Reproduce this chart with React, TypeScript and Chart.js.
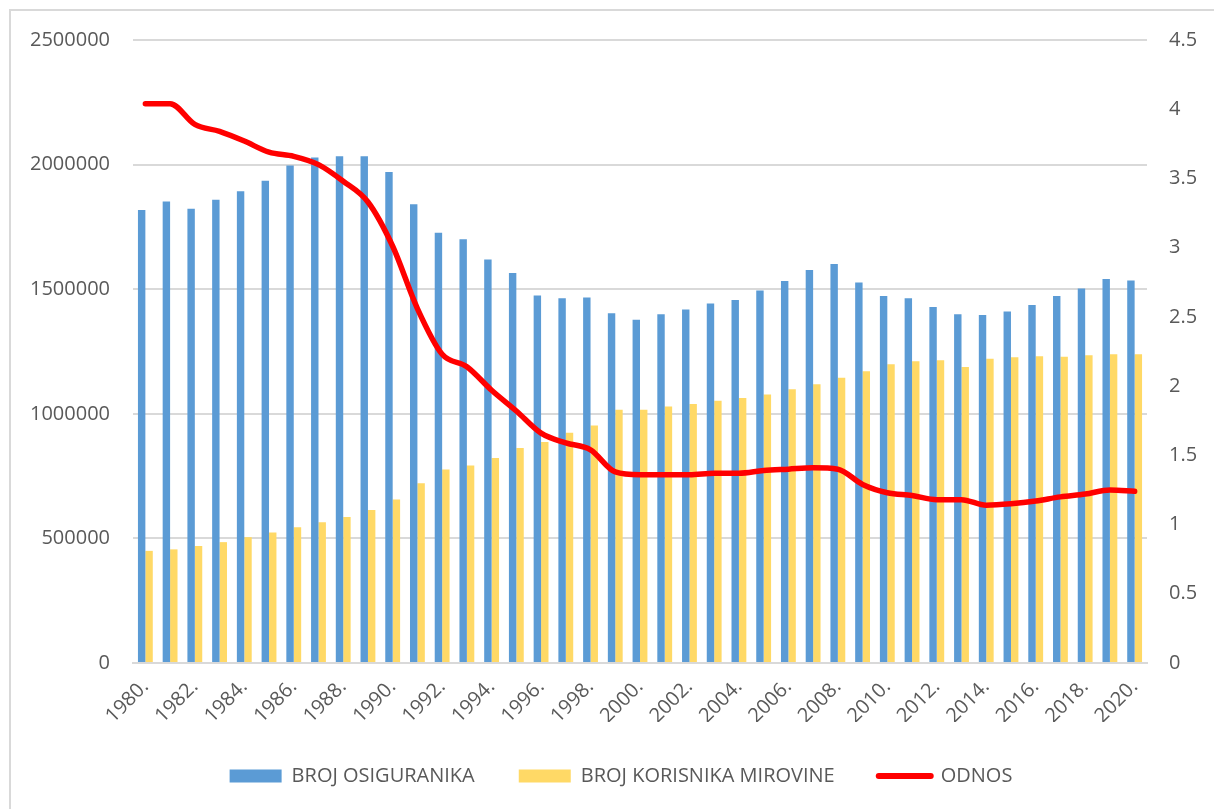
import React, { useEffect, useRef } from "react";
import { Chart, registerables } from "chart.js";

Chart.register(...registerables);

const years: string[] = [
  "1980.", "1981.", "1982.", "1983.", "1984.", "1985.", "1986.", "1987.", "1988.", "1989.",
  "1990.", "1991.", "1992.", "1993.", "1994.", "1995.", "1996.", "1997.", "1998.", "1999.",
  "2000.", "2001.", "2002.", "2003.", "2004.", "2005.", "2006.", "2007.", "2008.", "2009.",
  "2010.", "2011.", "2012.", "2013.", "2014.", "2015.", "2016.", "2017.", "2018.", "2019.",
  "2020.",
];

const osiguranici: number[] = [
  1818000, 1852000, 1823000, 1859000, 1893000, 1935000, 1996000, 2028000, 2034000, 2034000,
  1970000, 1841000, 1727000, 1700000, 1619000, 1565000, 1475000, 1464000, 1467000, 1403000,
  1377000, 1399000, 1419000, 1443000, 1457000, 1495000, 1533000, 1577000, 1601000, 1527000,
  1473000, 1464000, 1429000, 1399000, 1396000, 1411000, 1437000, 1473000, 1503000, 1541000,
  1535000,
];

const korisnici: number[] = [
  450000, 456000, 470000, 485000, 505000, 524000, 545000, 565000, 586000, 614000,
  656000, 721000, 776000, 793000, 823000, 863000, 887000, 924000, 953000, 1016000,
  1016000, 1029000, 1039000, 1052000, 1063000, 1077000, 1099000, 1119000, 1145000, 1171000,
  1199000, 1211000, 1215000, 1188000, 1221000, 1227000, 1231000, 1229000, 1235000, 1239000,
  1239000,
];

const odnos: number[] = [
  4.04, 4.04, 3.89, 3.84, 3.77, 3.69, 3.66, 3.6, 3.48, 3.33,
  3.01, 2.56, 2.23, 2.14, 1.97, 1.82, 1.66, 1.59, 1.54, 1.38,
  1.36, 1.36, 1.36, 1.37, 1.37, 1.39, 1.4, 1.41, 1.4, 1.29,
  1.23, 1.21, 1.18, 1.18, 1.14, 1.15, 1.17, 1.2, 1.22, 1.25,
  1.24,
];

const seriesNames: string[] = ["BROJ OSIGURANIKA", "BROJ KORISNIKA MIROVINE", "ODNOS"];

const FONT = "'Open Sans', 'Liberation Sans', sans-serif";
const TEXT = "#595959";
const GRID = "#D9D9D9";

export default function App() {
  const ref = useRef<HTMLCanvasElement | null>(null);

  useEffect(() => {
    document.body.style.margin = "0";
    document.body.style.overflow = "hidden";
    if (!ref.current) return;
    const chart = new Chart(ref.current, {
      type: "bar",
      data: {
        labels: years,
        datasets: [
          {
            type: "bar",
            label: seriesNames[0],
            data: osiguranici,
            backgroundColor: "#5B9BD5",
            borderWidth: 0,
            yAxisID: "y",
            order: 1,
            categoryPercentage: 0.6,
            barPercentage: 1,
          },
          {
            type: "bar",
            label: seriesNames[1],
            data: korisnici,
            backgroundColor: "#FFD966",
            borderWidth: 0,
            yAxisID: "y",
            order: 1,
            categoryPercentage: 0.6,
            barPercentage: 1,
          },
          {
            type: "line",
            label: seriesNames[2],
            data: odnos,
            borderColor: "#FF0000",
            backgroundColor: "#FF0000",
            borderWidth: 5.5,
            borderCapStyle: "round",
            borderJoinStyle: "round",
            pointRadius: 0,
            cubicInterpolationMode: "monotone",
            yAxisID: "y1",
            order: 0,
          },
        ],
      },
      options: {
        animation: false,
        responsive: true,
        maintainAspectRatio: false,
        layout: { padding: { left: 28, right: 0, top: 40, bottom: 13 } },
        plugins: {
          tooltip: { enabled: false },
          legend: {
            display: true,
            position: "bottom",
            labels: {
              font: { family: FONT, size: 20 },
              color: TEXT,
              padding: 44,
              usePointStyle: true,
              pointStyleWidth: 52,
              boxWidth: 52,
              boxHeight: 13,
              sort: (a: any, b: any) => a.datasetIndex - b.datasetIndex,
              generateLabels: (ch: any) =>
                ch.data.datasets.map((ds: any, i: number) => ({
                  text: ds.label,
                  fillStyle: ds.type === "line" ? ds.borderColor : ds.backgroundColor,
                  strokeStyle: ds.type === "line" ? ds.borderColor : ds.backgroundColor,
                  lineWidth: ds.type === "line" ? 6 : 0,
                  lineCap: "round",
                  pointStyle: ds.type === "line" ? "line" : "rect",
                  fontColor: TEXT,
                  hidden: false,
                  datasetIndex: i,
                })),
            },
          },
        },
        scales: {
          x: {
            grid: { display: false },
            border: { display: true, color: GRID, width: 2 },
            ticks: {
              autoSkip: false,
              maxRotation: 45,
              minRotation: 45,
              padding: 4,
              color: TEXT,
              font: { family: FONT, size: 20 },
              callback: (_v: any, i: number) => (i % 2 === 0 ? years[i] : ""),
            },
            afterFit: (s: any) => {
              s.height = 59;
            },
          },
          y: {
            position: "left",
            min: 0,
            max: 2500000,
            grid: { color: GRID, lineWidth: 2, drawTicks: false },
            border: { display: false },
            ticks: {
              stepSize: 500000,
              padding: 23,
              color: TEXT,
              font: { family: FONT, size: 20 },
              callback: (v: any) => String(v),
            },
            afterFit: (s: any) => {
              s.width = 105;
            },
          },
          y1: {
            position: "right",
            min: 0,
            max: 4.5,
            grid: { drawOnChartArea: false, drawTicks: false },
            border: { display: false },
            ticks: {
              stepSize: 0.5,
              padding: 22,
              color: TEXT,
              font: { family: FONT, size: 20 },
              callback: (v: any) => String(Math.round(Number(v) * 10) / 10),
            },
            afterFit: (s: any) => {
              s.width = 67;
            },
          },
        },
      },
    } as any);
    return () => chart.destroy();
  }, []);

  return (
    <div
      style={{
        position: "absolute",
        left: 0,
        top: 0,
        width: 1214,
        height: 809,
        overflow: "hidden",
        background: "#fff",
      }}
    >
      <div
        style={{
          position: "absolute",
          left: 9,
          top: 9,
          width: 1260,
          height: 860,
          border: "2px solid #D9D9D9",
          boxSizing: "border-box",
        }}
      />
      <div style={{ position: "absolute", left: 0, top: 0, width: 1214, height: 809 }}>
        <canvas ref={ref} />
      </div>
    </div>
  );
}
